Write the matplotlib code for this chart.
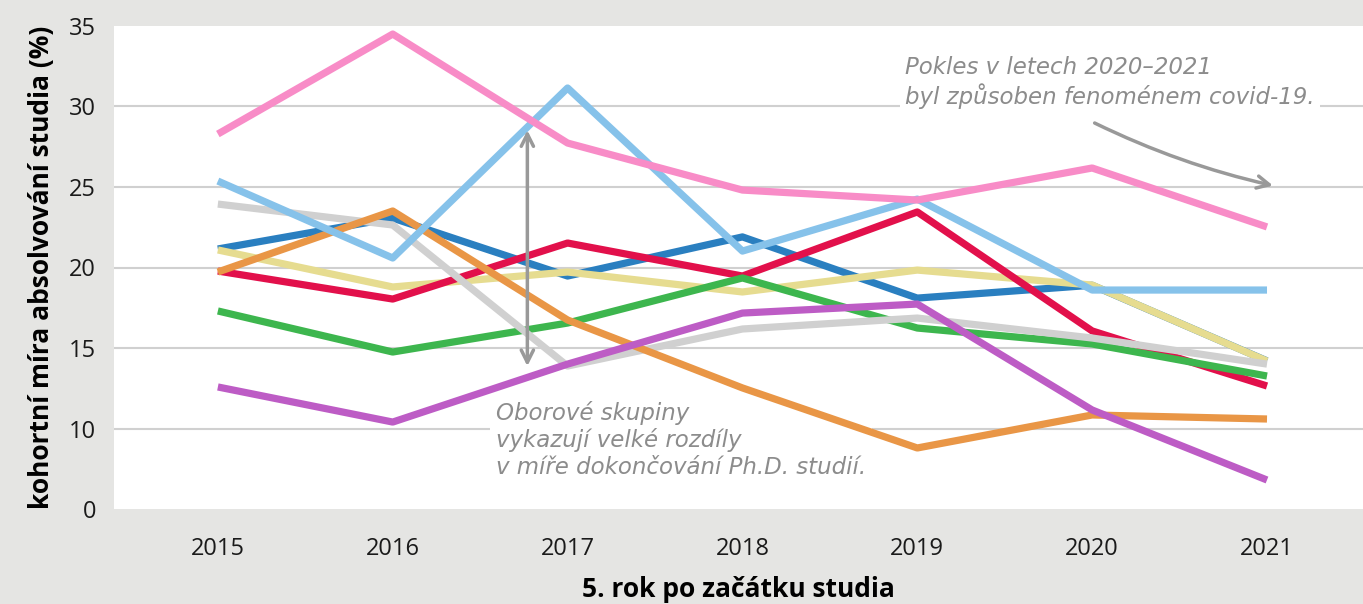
import numpy as np
import matplotlib.pyplot as plt

years = [2015, 2016, 2017, 2018, 2019, 2020, 2021]

# values (bottom tick is labelled 0 but sits at 5)
dark_blue = [21.15, 23.07, 19.47, 21.9, 18.1, 18.9, 14.2]
yellow = [21.09, 18.79, 19.72, 18.48, 19.84, 18.91, 14.19]
red = [19.78, 18.04, 21.52, 19.47, 23.45, 16.06, 12.64]
green = [17.3, 14.75, 16.55, 19.35, 16.24, 15.25, 13.26]
gray = [23.94, 22.64, 13.88, 16.18, 16.86, 15.62, 14.0]
orange = [19.72, 23.51, 16.74, 12.52, 8.79, 10.84, 10.59]
light_blue = [25.37, 20.59, 31.15, 21.02, 24.25, 18.6, 18.6]
purple = [12.58, 10.4, 14.0, 17.17, 17.73, 11.15, 6.8]
pink = [28.29, 34.5, 27.73, 24.81, 24.19, 26.18, 22.52]

series = [
    (dark_blue, '#2a7fc0'),
    (yellow, '#e6dc90'),
    (red, '#e2104b'),
    (green, '#3db64e'),
    (gray, '#d0d0d0'),
    (orange, '#e99646'),
    (light_blue, '#86c2ea'),
    (purple, '#bd5cc5'),
    (pink, '#f88cc7'),
]

yticks = [5, 10, 15, 20, 25, 30, 35]
ytick_labels = ['0', '10', '15', '20', '25', '30', '35']

bg = '#e5e5e3'
fig = plt.figure(figsize=(13.63, 6.04), dpi=100, facecolor=bg)
ax = fig.add_axes([114/1363, 1 - 509/604, (1363-114)/1363, (509-26)/604])
ax.set_facecolor('white')

for vals, col in series:
    ax.plot(years, vals, color=col, lw=5.2, solid_capstyle='butt', zorder=3)

ax.set_xlim(2014.406, 2021.549)
ax.set_ylim(5, 35)
ax.set_xticks(years)
ax.set_xticklabels([str(y) for y in years], fontsize=17, family='Open Sans', color='#1a1a1a')
ax.set_yticks(yticks)
ax.set_yticklabels(ytick_labels, fontsize=17, family='Open Sans', color='#1a1a1a')
ax.tick_params(length=0, pad=13)
ax.tick_params(axis='x', pad=20)
for y in yticks[1:-1]:
    ax.axhline(y, color='#d0d0d0', lw=1.5, zorder=1)
for s in ax.spines.values():
    s.set_visible(False)

ax.set_ylabel('kohortní míra absolvování studia (%)', fontsize=19, fontweight='bold',
              family='Open Sans', labelpad=10)
ax.set_xlabel('5. rok po začátku studia', fontsize=19, fontweight='bold',
              family='Open Sans', labelpad=11)

note_style = dict(fontsize=16.5, color='#8c8c8c', style='italic', family='DejaVu Sans',
                  linespacing=1.2, zorder=2,
                  bbox=dict(facecolor='white', edgecolor='none', pad=4))
ax.text(2016.59, 9.3, 'Oborové skupiny\nvykazují velké rozdíly\nv míře dokončování Ph.D. studií.',
        ha='left', va='center', **note_style)
ax.text(2018.93, 31.5, 'Pokles v letech 2020–2021\nbyl způsoben fenoménem covid-19.',
        ha='left', va='center', **note_style)

ax.annotate('', xy=(2016.77, 28.7), xytext=(2016.77, 13.7),
            arrowprops=dict(arrowstyle='<->', color='#999999', lw=2.5, mutation_scale=22),
            zorder=5)
ax.annotate('', xy=(2021.05, 25.05), xytext=(2020.0, 29.05),
            arrowprops=dict(arrowstyle='->', color='#999999', lw=2.5, mutation_scale=22,
                            connectionstyle='arc3,rad=0.06'),
            zorder=5)

fig.savefig('out.png', dpi=100, facecolor=bg)
